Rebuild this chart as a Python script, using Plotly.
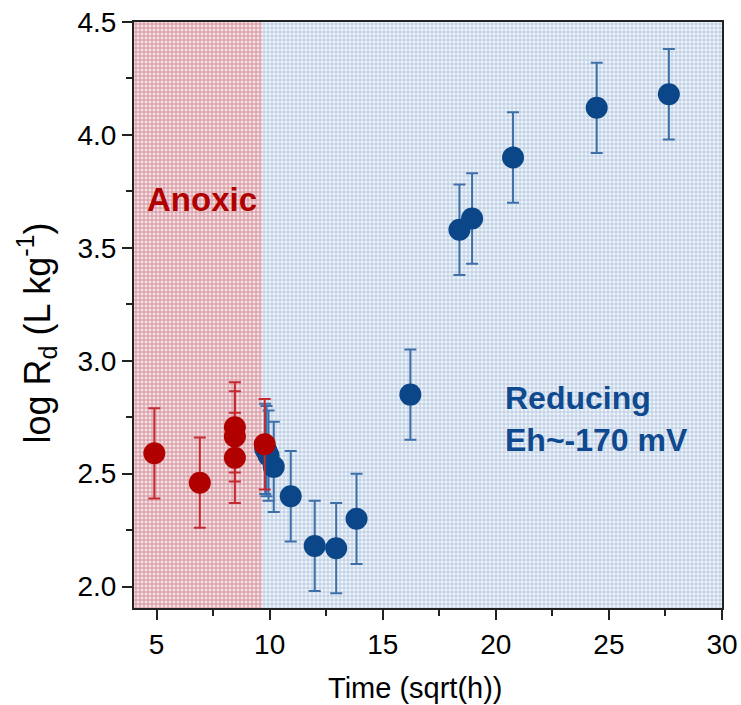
import plotly.graph_objects as go

# Data
red_x = [4.90, 6.91, 8.46, 8.46, 8.46, 9.78]
red_y = [2.59, 2.46, 2.705, 2.665, 2.57, 2.63]
red_err = [0.2, 0.2, 0.2, 0.2, 0.2, 0.2]

blue_x = [9.80, 9.86, 9.95, 10.18, 10.93, 11.99, 12.94, 13.84, 16.22, 18.39, 18.95, 20.76, 24.46, 27.65]
blue_y = [2.61, 2.60, 2.58, 2.53, 2.40, 2.18, 2.17, 2.30, 2.85, 3.58, 3.63, 3.90, 4.12, 4.18]
blue_err = [0.2, 0.2, 0.2, 0.2, 0.2, 0.2, 0.2, 0.2, 0.2, 0.2, 0.2, 0.2, 0.2, 0.2]

x_range = [4, 30]
y_range = [1.905, 4.5]
anoxic_end = 9.68

FONT = "Arial, Liberation Sans, sans-serif"

fig = go.Figure()

# shaded regions
fig.add_trace(go.Scatter(
    x=[x_range[0], anoxic_end, anoxic_end, x_range[0], x_range[0]],
    y=[y_range[0], y_range[0], y_range[1], y_range[1], y_range[0]],
    fill="toself", mode="none", fillcolor="#f0d6da",
    fillpattern=dict(shape="+", size=4, solidity=0.4, fgcolor="#d08892", bgcolor="#f4e0e3", fillmode="replace"),
    hoverinfo="skip", showlegend=False))
fig.add_trace(go.Scatter(
    x=[anoxic_end, x_range[1], x_range[1], anoxic_end, anoxic_end],
    y=[y_range[0], y_range[0], y_range[1], y_range[1], y_range[0]],
    fill="toself", mode="none", fillcolor="#e3ebf5",
    fillpattern=dict(shape="+", size=4, solidity=0.35, fgcolor="#a9c0dd", bgcolor="#eef3f9", fillmode="replace"),
    hoverinfo="skip", showlegend=False))

fig.add_trace(go.Scatter(
    x=blue_x, y=blue_y, mode="markers",
    marker=dict(size=22, color="#0b4788"),
    error_y=dict(type="data", array=blue_err, color="#3d6fa8", thickness=2, width=6),
    showlegend=False))
fig.add_trace(go.Scatter(
    x=red_x, y=red_y, mode="markers",
    marker=dict(size=22, color="#b00000"),
    error_y=dict(type="data", array=red_err, color="#c42a30", thickness=2, width=6),
    showlegend=False))

fig.add_annotation(x=4.5, y=3.715, text="<b>Anoxic</b>", showarrow=False,
                   xanchor="left", yanchor="middle",
                   font=dict(family=FONT, size=33, color="#b00000"))
fig.add_annotation(x=20.3, y=2.74, text="<b>Reducing<br>Eh~-170 mV</b>", showarrow=False,
                   xanchor="left", yanchor="middle", align="left",
                   font=dict(family=FONT, size=32, color="#0f4a8f"))
# axis titles
fig.add_annotation(xref="paper", yref="paper", x=-0.165, y=0.47,
                   text="log R<sub>d</sub> (L kg<sup>-1</sup>)", showarrow=False,
                   textangle=-90, xanchor="center", yanchor="middle",
                   font=dict(family=FONT, size=36, color="black"))
fig.add_annotation(xref="paper", yref="paper", x=0.478, y=-0.136,
                   text="Time (sqrt(h))", showarrow=False,
                   xanchor="center", yanchor="middle",
                   font=dict(family=FONT, size=29, color="black"))

fig.update_layout(
    width=741, height=705,
    margin=dict(l=134, r=19, t=22, b=97),
    paper_bgcolor="white", plot_bgcolor="white",
    font=dict(family=FONT, size=28, color="black"),
)
fig.update_xaxes(
    range=x_range, tickmode="array", tickvals=[5, 10, 15, 20, 25, 30],
    ticks="outside", ticklen=10, tickwidth=2, tickcolor="#222",
    minor=dict(tickvals=[7.5, 12.5, 17.5, 22.5, 27.5], ticks="outside", ticklen=6, tickwidth=2, tickcolor="#222"),
    showline=True, linecolor="#222", linewidth=2, mirror=True,
    showgrid=False, zeroline=False, automargin=False,
    tickfont=dict(size=28),
)
fig.update_yaxes(
    range=y_range, tickmode="array", tickvals=[2.0, 2.5, 3.0, 3.5, 4.0, 4.5],
    ticktext=["2.0", "2.5", "3.0", "3.5", "4.0", "4.5"],
    ticks="outside", ticklen=10, tickwidth=2, tickcolor="#222",
    minor=dict(tickvals=[2.25, 2.75, 3.25, 3.75, 4.25], ticks="outside", ticklen=6, tickwidth=2, tickcolor="#222"),
    showline=True, linecolor="#222", linewidth=2, mirror=True,
    showgrid=False, zeroline=False, automargin=False,
    tickfont=dict(size=28),
)

fig.write_html("out.html", config={"displayModeBar": False},
               post_script="document.body.style.margin='0';document.body.style.overflow='hidden';")
